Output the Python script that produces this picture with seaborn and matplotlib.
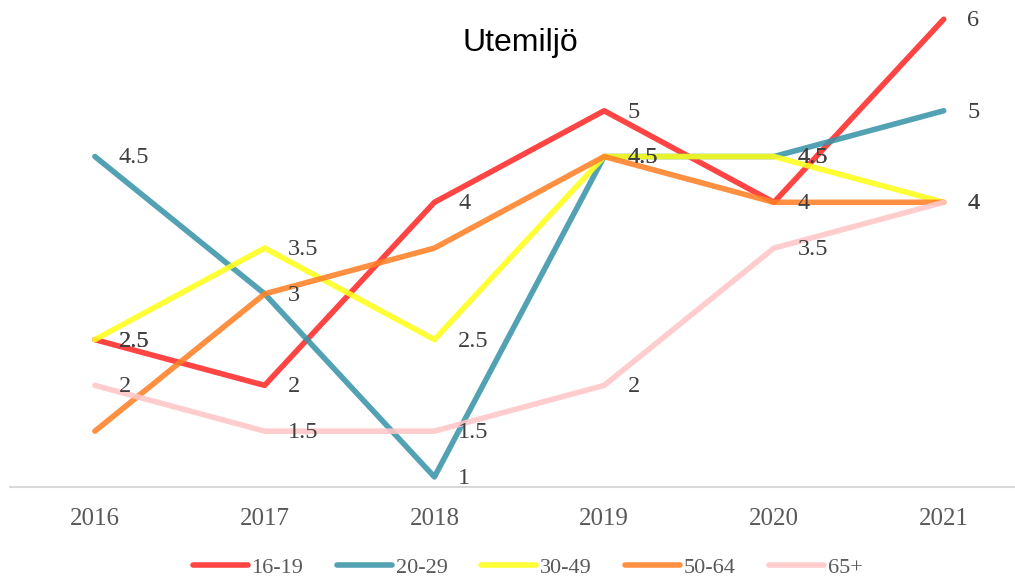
import pandas as pd
import seaborn as sns
import matplotlib.pyplot as plt

years = [2016, 2017, 2018, 2019, 2020, 2021]
groups = ['16-19', '20-29', '30-49', '50-64', '65+']
v_16_19 = [2.5, 2, 4, 5, 4, 6]
v_20_29 = [4.5, 3, 1, 4.5, 4.5, 5]
v_30_49 = [2.5, 3.5, 2.5, 4.5, 4.5, 4]
v_50_64 = [1.5, 3, 3.5, 4.5, 4, 4]
v_65 = [2, 1.5, 1.5, 2, 3.5, 4]
colors = ['#FF2A2A', '#3A95AA', '#FFFF1A', '#FF8027', '#FFC6C6']
# 50-64 has no data labels in the original
labelled = ['16-19', '20-29', '30-49', '65+']

values = [v_16_19, v_20_29, v_30_49, v_50_64, v_65]
rows = []
for g, vals in zip(groups, values):
    for y, v in zip(years, vals):
        rows.append({'year': y, 'group': g, 'value': v})
df = pd.DataFrame(rows)

sns.set_style('white')
plt.rcParams['font.family'] = ['Liberation Serif', 'DejaVu Serif']

fig = plt.figure(figsize=(10.15, 5.79), dpi=100)
ax = fig.add_axes([10 / 1015, 92 / 579, 1005 / 1015, 487 / 579])

sns.lineplot(data=df, x='year', y='value', hue='group', palette=colors,
             hue_order=groups, linewidth=4.0, alpha=0.88, ax=ax,
             solid_capstyle='round', legend=True)

for g in labelled:
    sub = df[df['group'] == g]
    for _, r in sub.iterrows():
        ax.annotate(f"{r['value']:g}", (r['year'], r['value']),
                    xytext=(17, -1), textcoords='offset points',
                    ha='left', va='center', fontsize=17.5, color='#404040')

ax.set_xlim(2015.5, 2021.42)
ax.set_ylim(0.89, 6.21)
ax.set_xticks(years)
ax.set_xticklabels([str(y) for y in years], fontsize=18, color='#595959')
ax.set_yticks([])
ax.tick_params(axis='x', length=0, pad=15)
ax.set_xlabel('')
ax.set_ylabel('')
for s in ['top', 'right', 'left']:
    ax.spines[s].set_visible(False)
ax.spines['bottom'].set_color('#D9D9D9')
ax.spines['bottom'].set_linewidth(1.5)

fig.text(0.513, 0.925, 'Utemiljö', ha='center', va='center',
         fontsize=23, family='Liberation Sans', color='black')

leg = ax.legend(loc='center', bbox_to_anchor=(0.515, -0.166), ncol=5, frameon=False,
                fontsize=16, handlelength=2.5, handletextpad=0.15,
                columnspacing=1.5, labelcolor='#595959')
for line in leg.get_lines():
    line.set_linewidth(4.0)

fig.savefig('out.png', dpi=100)
